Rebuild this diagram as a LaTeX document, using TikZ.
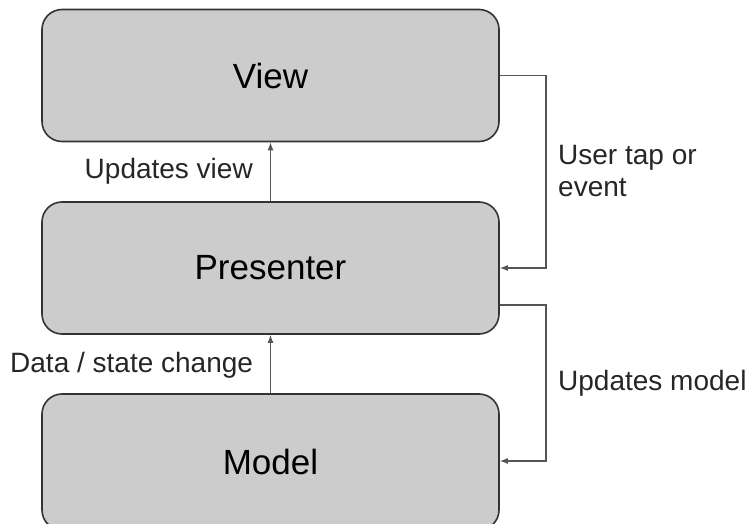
\documentclass[tikz,border=0pt]{standalone}
\usepackage{fontspec}
\setmainfont{Liberation Sans}
\usetikzlibrary{arrows.meta}

\definecolor{boxgray}{HTML}{CCCCCC}
\definecolor{linegray}{HTML}{555555}

\begin{document}
\begin{tikzpicture}
[every node/.style={inner sep=0pt},
 layer/.style={rectangle, rounded corners=20pt, minimum width=457pt, fill=boxgray, line width=1.6pt, draw=black!80, font=\fontsize{35}{42}\selectfont},
 flow/.style={line width=1.3pt, color=linegray, -{Latex[length=8pt, width=6pt]}},
 note/.style={font=\fontsize{28}{32}\selectfont, text=black!85}]
\useasboundingbox (0pt, 0pt) rectangle (748pt, -524pt);
\node (view) [layer, minimum height=132pt] at (270.5pt, -75.5pt) {View};
\node (presenter) [layer, minimum height=132pt] at (270.5pt, -268pt) {Presenter};
\node (model) [layer, minimum height=136pt] at (270.5pt, -462pt) {Model};
\coordinate (tapturn) at (546pt, -75.5pt);
\coordinate (modturn) at (546pt, -305pt);
\draw [flow] (presenter) to (view);
\draw [flow] (model) to (presenter);
\draw [flow] (view.east) to (tapturn) |- (presenter.east);
\draw [flow] ([yshift=-37pt]presenter.east) to (modturn) |- ([yshift=1pt]model.east);
\node (updview) [note, anchor=base east] at (253pt, -179pt) {Updates view};
\node (datachg) [note, anchor=base west] at (10pt, -372pt) {Data / state change};
\node (usertap) [note, anchor=north west, align=left] at (558pt, -145pt) {User tap or\\event};
\node (updmodel) [note, anchor=base west] at (558pt, -390pt) {Updates model};
\end{tikzpicture}
\end{document}
